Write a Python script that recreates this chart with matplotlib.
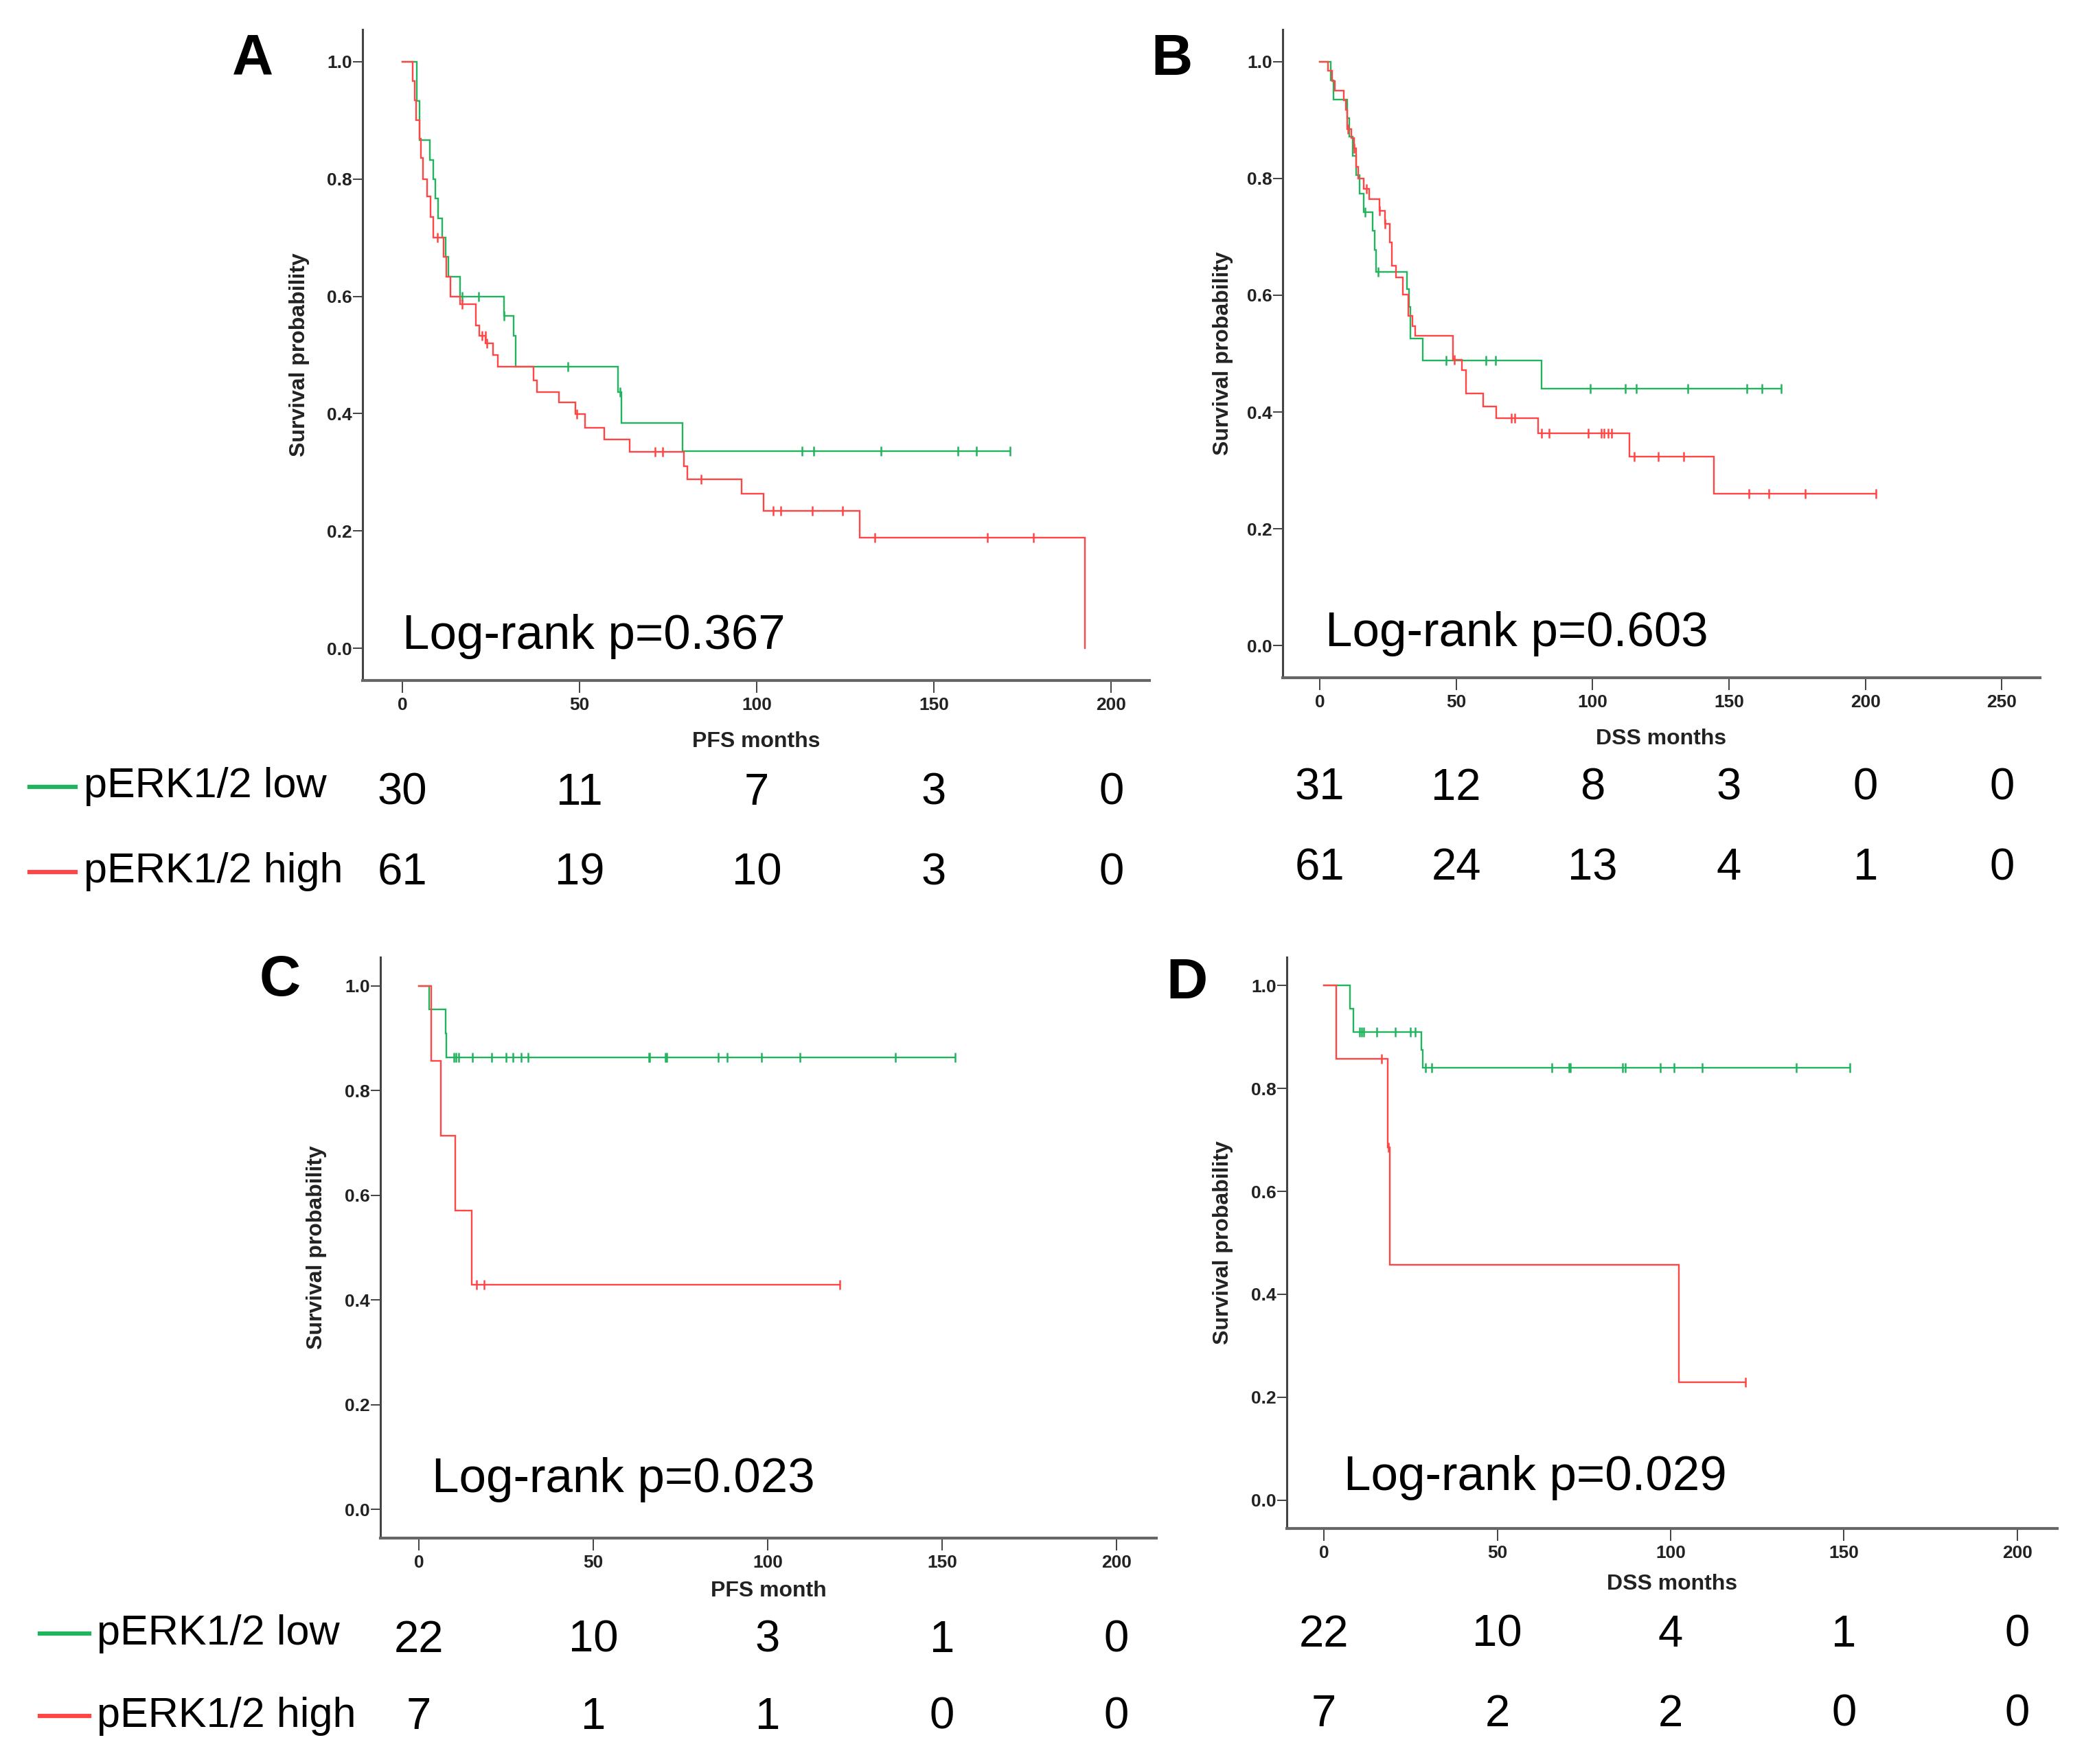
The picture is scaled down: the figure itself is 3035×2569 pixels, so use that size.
import numpy as np
import matplotlib
matplotlib.use("Agg")
import matplotlib.pyplot as plt
from matplotlib.lines import Line2D
from matplotlib.transforms import blended_transform_factory

plt.rcParams['font.family'] = ['Liberation Sans', 'DejaVu Sans']

GREEN = '#22b35e'
RED = '#ff4545'

# ---- data (months, survival after each event) ----
# A: PFS, all patients
a_low_t = [4.2, 4.9, 7.8, 8.7, 9.4, 10.1, 11.2, 12.2, 13.1, 16.4, 28.7, 31.5, 32.0, 60.9, 61.8, 79.0]
a_low_s = [0.933, 0.867, 0.833, 0.800, 0.767, 0.733, 0.700, 0.667, 0.633, 0.600, 0.567, 0.533, 0.480, 0.437, 0.384, 0.336]
a_low_end = 171.5
a_low_cens = [16.8, 21.6, 28.7, 46.7, 61.4, 112.7, 116.0, 135.0, 156.7, 162.0, 171.5]

a_high_t = [3.0, 3.5, 4.0, 4.8, 5.3, 5.8, 7.1, 8.0, 8.8, 11.6, 12.4, 13.6, 16.4, 20.8, 21.8, 23.5,
            25.7, 27.0, 37.0, 38.0, 44.2, 48.8, 51.6, 57.0, 64.2, 79.5, 80.5, 95.8, 102.0, 129.0, 192.5]
a_high_s = [0.967, 0.934, 0.900, 0.869, 0.836, 0.800, 0.770, 0.735, 0.700, 0.667, 0.633, 0.600, 0.587,
            0.550, 0.533, 0.520, 0.500, 0.480, 0.457, 0.437, 0.419, 0.399, 0.376, 0.356, 0.335, 0.310,
            0.288, 0.263, 0.234, 0.189, 0.0]
a_high_end = 192.5
a_high_cens = [9.9, 16.8, 22.6, 23.4, 23.9, 49.2, 71.4, 73.5, 84.3, 104.7, 106.7, 115.6, 124.2, 133.3, 165.0, 178.0]

# B: DSS, all patients
b_low_t = [3.9, 5.1, 10.0, 10.8, 12.0, 13.4, 14.7, 16.0, 19.4, 20.0, 20.7, 32.0, 32.6, 33.2, 37.8, 81.3]
b_low_s = [0.968, 0.935, 0.903, 0.871, 0.839, 0.806, 0.774, 0.742, 0.710, 0.677, 0.640, 0.610, 0.580, 0.526, 0.488, 0.440]
b_low_end = 169.0
b_low_cens = [16.7, 21.3, 46.4, 61.0, 64.4, 99.2, 112.0, 116.0, 135.0, 156.5, 162.0, 169.0]

b_high_t = [3.0, 4.5, 5.5, 8.8, 9.5, 10.0, 11.5, 12.5, 13.4, 14.0, 16.0, 18.0, 22.0, 23.8, 25.7, 26.5,
            28.0, 30.4, 32.5, 34.0, 35.0, 48.8, 52.0, 53.7, 60.0, 64.7, 80.0, 113.4, 144.5]
b_high_s = [0.984, 0.967, 0.950, 0.934, 0.918, 0.885, 0.869, 0.852, 0.820, 0.800, 0.782, 0.764, 0.744,
            0.722, 0.690, 0.651, 0.630, 0.601, 0.565, 0.547, 0.531, 0.490, 0.472, 0.432, 0.410, 0.390,
            0.364, 0.324, 0.260]
b_high_end = 203.8
b_high_cens = [10.3, 12.5, 17.0, 22.0, 23.8, 49.2, 70.2, 71.5, 81.3, 84.0, 98.3, 103.3, 104.2, 105.6,
               106.9, 115.2, 124.0, 133.5, 157.4, 164.7, 178.0, 203.8]

# C: PFS, subgroup
c_low_t = [3.0, 7.6, 7.8]
c_low_s = [0.955, 0.909, 0.864]
c_low_end = 153.7
c_low_cens = [10.0, 10.7, 11.4, 15.4, 20.9, 25.1, 26.9, 29.4, 31.4, 65.9, 66.2, 70.7, 71.1, 85.9, 88.3,
              98.3, 109.3, 136.6, 153.7]

c_high_t = [3.6, 6.4, 10.4, 15.1]
c_high_s = [0.857, 0.714, 0.571, 0.429]
c_high_end = 120.7
c_high_cens = [16.6, 18.7, 120.7]

# D: DSS, subgroup
d_low_t = [7.6, 8.6, 28.1, 28.6]
d_low_s = [0.955, 0.909, 0.875, 0.840]
d_low_end = 151.7
d_low_cens = [10.2, 10.9, 11.5, 15.3, 20.6, 24.9, 26.4, 29.3, 31.1, 65.7, 70.6, 71.0, 86.2, 87.0, 97.0,
              101.0, 109.2, 136.3, 151.7]

d_high_t = [3.6, 18.5, 19.0, 102.4]
d_high_s = [0.857, 0.686, 0.457, 0.229]
d_high_end = 121.5
d_high_cens = [16.6, 18.7, 121.5]

# numbers at risk
a_risk_low = [30, 11, 7, 3, 0]
a_risk_high = [61, 19, 10, 3, 0]
b_risk_low = [31, 12, 8, 3, 0, 0]
b_risk_high = [61, 24, 13, 4, 1, 0]
c_risk_low = [22, 10, 3, 1, 0]
c_risk_high = [7, 1, 1, 0, 0]
d_risk_low = [22, 10, 4, 1, 0]
d_risk_high = [7, 2, 2, 0, 0]

a_ticks = [0, 50, 100, 150, 200]
b_ticks = [0, 50, 100, 150, 200, 250]
c_ticks = [0, 50, 100, 150, 200]
d_ticks = [0, 50, 100, 150, 200]

W, H = 3035, 2569
fig = plt.figure(figsize=(W / 100, H / 100), dpi=100)
fig.patch.set_facecolor('white')


def fx(px):
    return px / W


def fy(py):
    return 1 - py / H


def km(ax, times, surv, end, cens, color):
    x = [0] + list(times) + [end]
    y = [1.0] + list(surv) + [surv[-1]]
    ax.step(x, y, where='post', color=color, lw=1.7, solid_joinstyle='miter')
    levels = np.array([1.0] + list(surv))
    idx = np.searchsorted(np.array(times), np.array(cens), side='right')
    ax.plot(cens, levels[idx], ls='none', marker='|', ms=10, mew=1.8, color=color)


def panel(box, xlim, ticks, xlabel, curves, ptext, ptext_xy, ylab_x, xlab_y):
    l, t, r, b = box
    ax = fig.add_axes([fx(l), fy(b), fx(r - l), (b - t) / H])
    for c in curves:
        km(ax, *c)
    ax.set_xlim(*xlim)
    ax.set_ylim(-0.055, 1.055)
    ax.set_xticks(ticks)
    ax.set_yticks([0.0, 0.2, 0.4, 0.6, 0.8, 1.0])
    ax.set_yticklabels(['0.0', '0.2', '0.4', '0.6', '0.8', '1.0'])
    for side in ['top', 'right']:
        ax.spines[side].set_visible(False)
    ax.spines['left'].set_color('#444444')
    ax.spines['left'].set_linewidth(2.2)
    ax.spines['bottom'].set_color('#666666')
    ax.spines['bottom'].set_linewidth(3.0)
    ax.tick_params(axis='y', direction='out', length=10, width=1.2, pad=1, labelsize=19, colors='#222222')
    ax.tick_params(axis='x', direction='out', length=13, width=1.2, pad=4, labelsize=19, colors='#222222')
    for lab in ax.get_xticklabels() + ax.get_yticklabels():
        lab.set_fontweight('bold')
    ax.text(0.5, xlab_y, xlabel, transform=ax.transAxes, ha='center', va='center',
            fontsize=23, fontweight='bold', color='#222222')
    ax.text(ylab_x, 0.5, 'Survival probability', transform=ax.transAxes, ha='center', va='center',
            rotation=90, fontsize=23, fontweight='bold', color='#222222')
    ax.text(ptext_xy[0], ptext_xy[1], ptext, ha='left', va='center', fontsize=51, color='black')
    return ax


def risk_rows(ax, ticks, low, high, y_low, y_high):
    tr = blended_transform_factory(ax.transData, fig.transFigure)
    for x, n in zip(ticks, low):
        fig.text(x, fy(y_low), str(n), transform=tr, ha='center', va='center', fontsize=47)
    for x, n in zip(ticks, high):
        fig.text(x, fy(y_high), str(n), transform=tr, ha='center', va='center', fontsize=47)


def legend_rows(x0, x1, xt, y_low, y_high):
    fig.add_artist(Line2D([fx(x0), fx(x1)], [fy(y_low), fy(y_low)], color=GREEN, lw=4.5))
    fig.add_artist(Line2D([fx(x0), fx(x1)], [fy(y_high), fy(y_high)], color=RED, lw=4.5))
    fig.text(fx(xt), fy(y_low), 'pERK1/2 low', ha='left', va='center', fontsize=44)
    fig.text(fx(xt), fy(y_high), 'pERK1/2 high', ha='left', va='center', fontsize=44)


ax_a = panel((528, 43, 1674, 991), (-11.2, 210.8), a_ticks, 'PFS months',
             [(a_low_t, a_low_s, a_low_end, a_low_cens, GREEN),
              (a_high_t, a_high_s, a_high_end, a_high_cens, RED)],
             'Log-rank p=0.367', (0, 0.02), -0.080, -0.094)
ax_b = panel((1868, 43, 2971, 987), (-13.6, 264), b_ticks, 'DSS months',
             [(b_low_t, b_low_s, b_low_end, b_low_cens, GREEN),
              (b_high_t, b_high_s, b_high_end, b_high_cens, RED)],
             'Log-rank p=0.603', (2, 0.02), -0.079, -0.094)
ax_c = panel((554, 1394, 1684, 2240), (-11, 211.4), c_ticks, 'PFS month',
             [(c_low_t, c_low_s, c_low_end, c_low_cens, GREEN),
              (c_high_t, c_high_s, c_high_end, c_high_cens, RED)],
             'Log-rank p=0.023', (3.7, 0.056), -0.082, -0.091)
ax_d = panel((1874, 1394, 2996, 2226), (-10.7, 211.5), d_ticks, 'DSS months',
             [(d_low_t, d_low_s, d_low_end, d_low_cens, GREEN),
              (d_high_t, d_high_s, d_high_end, d_high_cens, RED)],
             'Log-rank p=0.029', (5.7, 0.044), -0.083, -0.097)

risk_rows(ax_a, a_ticks, a_risk_low, a_risk_high, 1155, 1272)
risk_rows(ax_b, b_ticks, b_risk_low, b_risk_high, 1148, 1264)
risk_rows(ax_c, c_ticks, c_risk_low, c_risk_high, 2389, 2501)
risk_rows(ax_d, d_ticks, d_risk_low, d_risk_high, 2381, 2497)

legend_rows(43, 110, 122, 1146, 1270)
legend_rows(58, 130, 141, 2379, 2499)

for letter, x, y in [('A', 368, 87), ('B', 1707, 87), ('C', 408, 1428), ('D', 1728, 1432)]:
    fig.text(fx(x), fy(y), letter, ha='center', va='center', fontsize=60, fontweight='bold')

fig.savefig('out.png', dpi=100, facecolor='white')
